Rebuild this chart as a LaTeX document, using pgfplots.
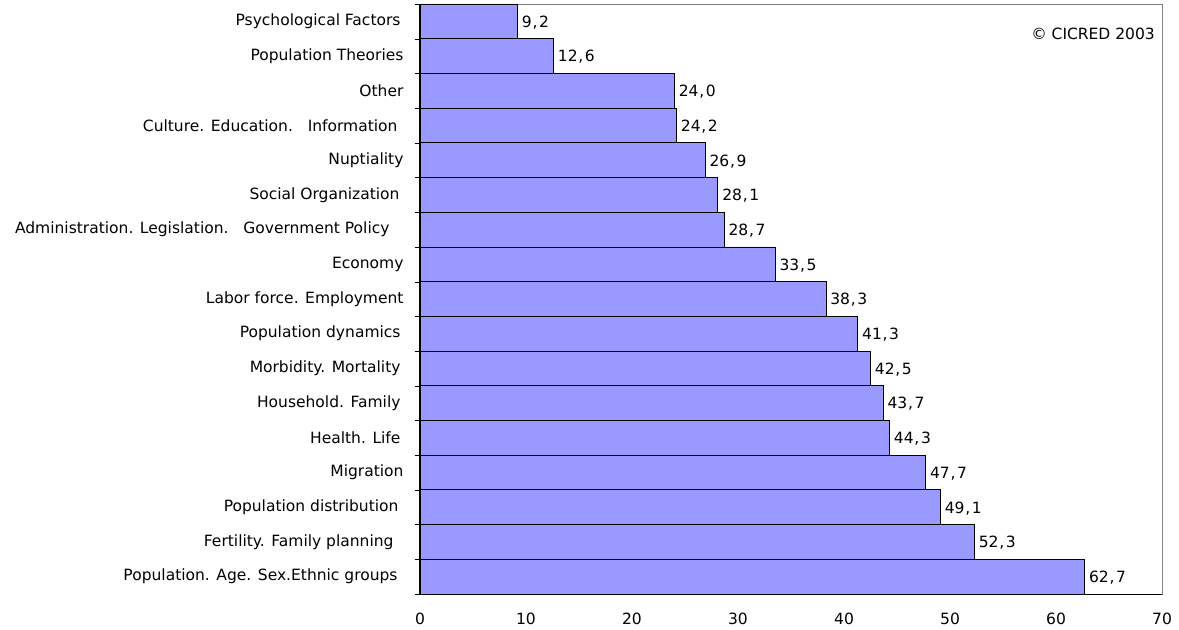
\documentclass[border=0pt]{standalone}
\usepackage{pgfplots}
\pgfplotsset{compat=1.18}
\usepackage{fontspec}
\setmainfont{DejaVu Sans}
\definecolor{barblue}{HTML}{9999FF}
\definecolor{framegray}{HTML}{808080}
\newcommand{\lblfont}{\fontsize{15.5bp}{18bp}\selectfont}

\begin{document}
\begin{tikzpicture}
\begin{axis}[
  name=ax,
  scale only axis,
  width=742bp, height=590bp,
  xbar, bar width=1,
  xmin=0, xmax=70,
  ymin=-0.5, ymax=16.5,
  xtick={0,10,...,70},
  ytick={0,...,16},
  yticklabels={
    Population. Age. Sex.Ethnic groups\kern6bp,
    Fertility. Family planning\kern10bp,
    Population distribution\kern5bp,
    Migration,
    Health. Life\kern3bp,
    Household. Family\kern3bp,
    Morbidity. Mortality\kern3bp,
    Population dynamics\kern3bp,
    Labor force. Employment,
    Economy,
    Administration. Legislation.\ \ \ Government Policy\kern14bp,
    Social Organization\kern4bp,
    Nuptiality,
    Culture. Education.\ \ \ Information\kern6bp,
    Other,
    Population Theories,
    Psychological Factors\kern3bp},
  minor ytick={-0.5,0.5,...,16.5},
  tick pos=left,
  major tick length=5bp,
  minor tick length=5bp,
  ytick style={draw=none},
  minor y tick style={draw=black},
  xtick style={draw=black, semithick},
  axis line style={draw=framegray, thin},
  tick label style={font=\lblfont, text=black},
  yticklabel style={anchor=east, xshift=-8bp},
  xticklabel style={yshift=-15bp},
  /pgf/number format/assume math mode=true,
  nodes near coords,
  nodes near coords style={
    font=\lblfont, anchor=west, inner sep=3bp,
    xshift=1bp, yshift=-1bp,
    /pgf/number format/.cd, fixed, fixed zerofill, precision=1,
    set decimal separator={\kern0.8bp,\kern1.6bp}},
  clip=false,
]
\addplot[fill=barblue, draw=black, line width=0.8bp] coordinates {
  (62.7,0) (52.3,1) (49.1,2) (47.7,3) (44.3,4) (43.7,5) (42.5,6)
  (41.3,7) (38.3,8) (33.5,9) (28.7,10) (28.1,11) (26.9,12)
  (24.2,13) (24.0,14) (12.6,15) (9.2,16)
};
\draw[black, line width=1bp] (rel axis cs:0,1) -- (rel axis cs:0,0) -- (rel axis cs:1,0);
\node[anchor=east, font=\lblfont, inner sep=0pt]
  at ([xshift=-7bp,yshift=-30bp]rel axis cs:1,1) {© CICRED 2003};
\end{axis}
\pgfresetboundingbox
\path[use as bounding box] ([xshift=-420bp,yshift=-35bp]ax.south west)
  rectangle ([xshift=17bp,yshift=4bp]ax.north east);
\end{tikzpicture}
\end{document}
